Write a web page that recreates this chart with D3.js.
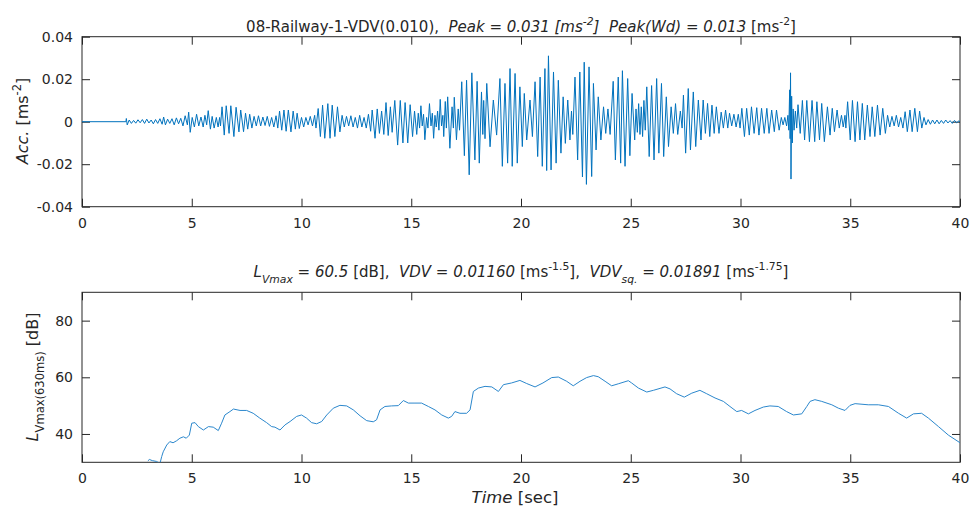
<!DOCTYPE html>
<html>
<head>
<meta charset="utf-8">
<script src="https://cdn.jsdelivr.net/npm/d3@7"></script>
<style>
  body { margin: 0; background: #fff; }
  svg text { font-family: "DejaVu Sans", sans-serif; fill: #262626; }
</style>
</head>
<body>
<div id="chart"></div>
<script>
// acceleration trace, [time s, acc m/s^2] (peaks and troughs)
const accSamples = [
  [0,0],[2.0,0],[2.02,0.0015],[2.06,-0.0015],[2.15,0.0008],[2.25,-0.0008],[2.35,0.0006],[2.45,-0.0007],[2.55,0.0009],[2.65,-0.0005],
  [2.75,0.001],[2.85,-0.0008],[2.95,0.0012],[3.05,-0.0006],[3.15,0.0008],[3.25,-0.001],[3.35,0.001],[3.45,-0.0008],[3.55,0.0014],[3.65,-0.0012],
  [3.72,0.0022],[3.8,-0.0015],[3.9,0.0012],[4.0,-0.0008],[4.1,0.0014],[4.2,-0.0015],[4.3,0.0018],[4.4,-0.001],[4.5,0.0016],[4.6,-0.002],
  [4.7,0.0028],[4.8,-0.0015],[4.86,0.0045],[4.93,-0.005],[5.02,0.002],[5.12,-0.0025],[5.22,0.0035],[5.32,-0.002],[5.42,0.0022],[5.52,-0.0025],
  [5.6,0.003],[5.68,-0.0015],[5.75,0.0052],[5.85,-0.0035],[5.93,0.0025],[6.02,-0.003],[6.12,0.002],[6.2,-0.0025],[6.27,0.002],[6.31,-0.002],
  [6.38,0.007],[6.48,-0.0063],[6.57,0.0075],[6.7,-0.0055],[6.78,0.0075],[6.92,-0.007],[7.02,0.0068],[7.15,-0.0048],[7.23,0.0055],[7.36,-0.0047],
  [7.45,0.004],[7.55,-0.0035],[7.64,0.0035],[7.74,-0.003],[7.84,0.0025],[7.94,-0.002],[8.04,0.0028],[8.14,-0.002],[8.24,0.0022],[8.34,-0.0018],
  [8.44,0.0025],[8.54,-0.0022],[8.64,0.002],[8.74,-0.0025],[8.84,0.0028],[8.92,-0.003],[9.0,0.005],[9.1,-0.004],[9.2,0.0055],[9.3,-0.0045],
  [9.4,0.0055],[9.52,-0.0048],[9.62,0.005],[9.72,-0.0035],[9.8,0.004],[9.9,-0.0032],[10.0,0.002],[10.1,-0.0025],[10.2,0.002],[10.3,-0.0015],
  [10.4,0.0025],[10.5,-0.002],[10.6,0.003],[10.66,-0.003],[10.76,0.0062],[10.86,-0.007],[10.96,0.0078],[11.06,-0.0078],[11.2,0.0085],[11.3,-0.0078],
  [11.4,0.0078],[11.52,-0.007],[11.64,0.007],[11.75,-0.0048],[11.85,0.003],[11.95,-0.0025],[12.05,0.0025],[12.15,-0.002],[12.25,0.0028],[12.35,-0.0025],
  [12.45,0.002],[12.55,-0.003],[12.65,0.003],[12.75,-0.0025],[12.85,0.002],[12.95,-0.003],[13.05,0.0035],[13.15,-0.0045],[13.22,0.0055],[13.35,-0.0078],
  [13.45,0.006],[13.55,-0.0055],[13.65,0.005],[13.75,-0.006],[13.85,0.009],[13.95,-0.0065],[14.05,0.007],[14.13,-0.005],[14.25,0.01],[14.38,-0.011],
  [14.5,0.01],[14.62,-0.01],[14.72,0.009],[14.84,-0.01],[14.95,0.008],[15.06,-0.007],[15.15,0.005],[15.25,-0.006],[15.32,0.004],[15.38,-0.003],
  [15.44,0.0075],[15.5,-0.002],[15.56,0.0035],[15.62,-0.0085],[15.7,0.002],[15.76,-0.003],[15.83,0.0085],[15.9,-0.002],[15.96,0.004],[16.02,-0.0078],
  [16.08,0.003],[16.14,-0.0025],[16.2,0.005],[16.26,-0.004],[16.32,0.0105],[16.38,-0.002],[16.44,0.003],[16.48,-0.007],[16.55,0.0095],[16.6,-0.003],
  [16.66,0.0117],[16.76,-0.0125],[16.86,0.007],[16.92,-0.003],[16.96,0.0115],[17.06,-0.0085],[17.14,0.006],[17.2,-0.004],[17.3,0.0188],[17.42,-0.016],
  [17.52,0.0195],[17.64,-0.025],[17.76,0.023],[17.9,-0.018],[18.0,0.019],[18.1,-0.0195],[18.2,0.014],[18.26,-0.006],[18.3,0.01],[18.36,-0.008],
  [18.44,0.018],[18.59,-0.0118],[18.74,0.0102],[18.89,-0.0063],[19.04,0.0203],[19.15,-0.021],[19.27,0.018],[19.39,-0.0195],[19.5,0.025],[19.6,-0.021],
  [19.73,0.0227],[19.83,-0.0195],[19.95,0.0164],[20.06,-0.0117],[20.15,0.0133],[20.26,-0.0086],[20.41,0.0102],[20.52,-0.007],[20.64,0.0188],[20.76,-0.0164],
  [20.87,0.021],[20.97,-0.021],[21.09,0.025],[21.17,-0.023],[21.25,0.031],[21.37,-0.0227],[21.48,0.0234],[21.6,-0.0195],[21.7,0.0195],[21.82,-0.0148],
  [21.92,0.0117],[22.02,-0.0102],[22.13,0.0102],[22.23,-0.0086],[22.3,0.005],[22.36,-0.006],[22.46,0.021],[22.58,-0.018],[22.68,0.0234],[22.8,-0.026],
  [22.88,0.028],[22.98,-0.0295],[23.1,0.0258],[23.22,-0.0258],[23.3,0.018],[23.42,-0.0133],[23.52,0.0117],[23.64,-0.0086],[23.76,0.007],[23.86,-0.0055],
  [23.96,0.006],[24.06,-0.006],[24.2,0.019],[24.3,-0.018],[24.43,0.021],[24.54,-0.0195],[24.62,0.024],[24.74,-0.021],[24.86,0.0203],[24.96,-0.016],
  [25.06,0.0133],[25.18,-0.0086],[25.24,0.006],[25.3,-0.005],[25.36,0.0085],[25.42,-0.006],[25.48,0.007],[25.54,-0.007],[25.6,0.01],[25.66,-0.004],
  [25.73,0.0164],[25.84,-0.0164],[25.95,0.017],[26.06,-0.018],[26.18,0.0203],[26.28,-0.0148],[26.4,0.018],[26.5,-0.0164],[26.62,0.0117],[26.72,-0.0117],
  [26.84,0.007],[26.94,-0.0055],[27.04,0.0085],[27.14,-0.006],[27.26,0.005],[27.34,-0.003],[27.4,0.0125],[27.5,-0.0148],[27.62,0.0156],[27.72,-0.0133],
  [27.85,0.014],[27.96,-0.0117],[28.08,0.0102],[28.2,-0.0086],[28.3,0.0102],[28.4,-0.0055],[28.5,0.0086],[28.6,-0.007],[28.7,0.0078],[28.8,-0.0055],
  [28.9,0.007],[29.02,-0.0055],[29.12,0.0045],[29.22,-0.003],[29.32,0.0055],[29.42,-0.003],[29.5,0.004],[29.6,-0.002],[29.7,0.0035],[29.8,-0.0025],
  [29.9,0.0035],[29.98,-0.003],[30.06,0.0063],[30.18,-0.007],[30.28,0.0063],[30.4,-0.0063],[30.5,0.007],[30.62,-0.0055],[30.74,0.0066],[30.84,-0.0063],
  [30.96,0.0063],[31.08,-0.0055],[31.2,0.0063],[31.3,-0.0055],[31.42,0.0055],[31.54,-0.0047],[31.64,0.0055],[31.76,-0.004],[31.86,0.002],[31.94,-0.0015],
  [32.02,0.002],[32.1,-0.002],[32.16,0.003],[32.2,-0.004],[32.24,0.015],[32.26,-0.008],[32.28,0.023],[32.3,-0.027],[32.33,0.012],[32.36,-0.01],
  [32.4,0.006],[32.44,-0.004],[32.5,0.005],[32.56,-0.003],[32.62,0.008],[32.72,-0.0055],[32.82,0.01],[32.92,-0.0086],[33.02,0.01],[33.14,-0.0094],
  [33.26,0.01],[33.38,-0.0094],[33.48,0.0094],[33.6,-0.0086],[33.7,0.0086],[33.82,-0.0094],[33.96,0.007],[34.08,-0.0063],[34.18,0.0063],[34.28,-0.0047],
  [34.4,0.0055],[34.5,-0.003],[34.6,0.003],[34.68,-0.0025],[34.76,0.003],[34.8,-0.003],[34.88,0.0094],[35.0,-0.0086],[35.1,0.01],[35.22,-0.0094],
  [35.33,0.0094],[35.44,-0.0086],[35.55,0.0086],[35.66,-0.0086],[35.78,0.0078],[35.9,-0.007],[36.0,0.007],[36.12,-0.007],[36.24,0.0078],[36.36,-0.0063],
  [36.48,0.0063],[36.6,-0.0055],[36.7,0.003],[36.8,-0.0025],[36.9,0.0025],[37.0,-0.002],[37.1,0.003],[37.2,-0.0025],[37.3,0.002],[37.4,-0.003],
  [37.5,0.0047],[37.6,-0.0047],[37.72,0.0055],[37.82,-0.0047],[37.94,0.0063],[38.06,-0.0047],[38.16,0.005],[38.26,-0.003],[38.36,0.002],[38.45,-0.0015],
  [38.55,0.001],[38.65,-0.0012],[38.75,0.0008],[38.85,-0.001],[38.95,0.0008],[39.05,-0.001],[39.15,0.0006],[39.25,-0.0008],[39.35,0.0008],[39.45,-0.0006],
  [39.55,0.0005],[39.65,-0.0008],[39.75,0.0006],[39.85,-0.0005],[39.95,0.0004],[40,0]
];

// running L_Vmax (630 ms) in dB, [time s, dB]
const lvSamples = [
  [3.0,30.5],[3.07,31],[3.2,30.6],[3.4,30.3],[3.55,29.5],[3.63,32],[3.7,33.7],[3.86,36.1],[4.0,37.3],[4.15,36.9],
  [4.31,37.6],[4.46,38.5],[4.62,39],[4.75,38.5],[4.89,39.6],[5.0,43.8],[5.15,44],[5.3,42.6],[5.53,41.4],[5.76,42.6],
  [5.98,42.4],[6.21,41.2],[6.36,43.8],[6.51,46.7],[6.74,47.9],[6.9,48.8],[7.2,48.3],[7.5,48.3],[7.8,47.3],[8.1,45.6],
  [8.41,44],[8.64,42.6],[8.79,42.4],[9.02,41.4],[9.25,43.2],[9.48,44.4],[9.78,46.2],[10.0,46.7],[10.23,45.6],[10.46,44],
  [10.69,43.6],[10.92,44.4],[11.15,46.7],[11.45,49.1],[11.75,50.1],[12.06,49.9],[12.36,48.5],[12.67,46.4],[12.97,44.7],[13.27,44.3],
  [13.42,45],[13.58,48.5],[13.8,49.7],[14.1,49.9],[14.41,50],[14.64,51.8],[14.87,50.9],[15.17,50.9],[15.47,50.9],[15.78,49.7],
  [16.08,48.5],[16.39,46.7],[16.69,45.6],[16.84,46.2],[16.99,47.9],[17.22,47.3],[17.52,47.3],[17.68,48.5],[17.83,55],[18.06,56.2],
  [18.36,56.8],[18.67,56.6],[18.97,55],[19.2,57.4],[19.57,58],[19.95,58.9],[20.26,57.8],[20.64,56.6],[21.0,58],[21.4,59.9],
  [21.7,60.1],[22.08,58.6],[22.38,57],[22.69,58.6],[22.99,59.9],[23.3,60.6],[23.52,60.2],[23.83,58.6],[24.13,57],[24.43,57.7],
  [24.89,58.8],[25.04,58],[25.35,56.2],[25.73,54.8],[26.03,55.4],[26.56,56.6],[26.79,55.9],[27.09,54.2],[27.44,53],[27.78,54.4],
  [28.15,55.4],[28.46,54.2],[28.84,52.7],[29.22,51.5],[29.52,49.7],[29.83,47.9],[30.05,48.3],[30.36,47.1],[30.66,48.3],[31.04,49.5],
  [31.34,49.9],[31.72,49.7],[32.1,47.9],[32.41,46.7],[32.79,47.1],[33.02,49.7],[33.17,51.5],[33.39,52.1],[33.7,51.5],[34.16,50.3],
  [34.46,49.1],[34.76,48.3],[34.99,50.1],[35.22,50.7],[35.82,50.3],[36.28,50.3],[36.74,49.7],[37.2,47.3],[37.57,45.6],[37.88,47.1],
  [38.25,47.3],[38.56,45.6],[39.02,42.6],[39.47,39.6],[40,36.9]
];

const timeTicks = [0, 5, 10, 15, 20, 25, 30, 35, 40];
const accTicks = [-0.04, -0.02, 0, 0.02, 0.04];
const lvTicks = [40, 60, 80];

const W = 970, H = 508;
const svg = d3.select("#chart").append("svg")
    .attr("width", W).attr("height", H);

const left = 82, right = 960;
const x = d3.scaleLinear().domain([0, 40]).range([left, right]);
const yAcc = d3.scaleLinear().domain([-0.04, 0.04]).range([206.7, 36.7]);
const yLv = d3.scaleLinear().domain([30, 90]).range([462.3, 292.3]);

// write a label made of pieces: {t, it (italic), s: "sup"|"sub"}
function richText(sel, parts, size) {
    let shift = 0;
    parts.forEach(p => {
        const target = p.s === "sup" ? -7 : p.s === "sub" ? 6 : 0;
        sel.append("tspan")
            .attr("dy", target - shift)
            .style("font-style", p.it ? "italic" : "normal")
            .style("font-size", p.s ? (size * 0.72) + "px" : size + "px")
            .text(p.t);
        shift = target;
    });
}

function drawAxes(y, yTicks, yFmt, clipId) {
    const g = svg.append("g");
    const [y0, y1] = y.range();

    g.append("g")
        .attr("transform", `translate(0,${y0})`)
        .call(d3.axisBottom(x).tickValues(timeTicks).tickSize(-8).tickSizeOuter(0).tickPadding(11))
        .call(a => a.select(".domain").remove());
    g.append("g")
        .attr("transform", `translate(0,${y1})`)
        .call(d3.axisTop(x).tickValues(timeTicks).tickSize(-8).tickSizeOuter(0).tickFormat(""))
        .call(a => a.select(".domain").remove());
    g.append("g")
        .attr("transform", `translate(${left},0)`)
        .call(d3.axisLeft(y).tickValues(yTicks).tickSize(-8).tickSizeOuter(0).tickPadding(9).tickFormat(yFmt))
        .call(a => a.select(".domain").remove());
    g.append("g")
        .attr("transform", `translate(${right},0)`)
        .call(d3.axisRight(y).tickValues(yTicks).tickSize(-8).tickSizeOuter(0).tickFormat(""))
        .call(a => a.select(".domain").remove());

    g.selectAll(".tick line").attr("stroke", "#262626");
    g.selectAll(".tick text").style("font-size", "14px").attr("fill", "#262626")
        .style("font-family", "'DejaVu Sans', sans-serif");

    g.append("rect")
        .attr("x", left).attr("y", y1)
        .attr("width", right - left).attr("height", y0 - y1)
        .attr("fill", "none").attr("stroke", "#262626").attr("stroke-width", 1);

    svg.append("clipPath").attr("id", clipId)
        .append("rect")
        .attr("x", left).attr("y", y1)
        .attr("width", right - left).attr("height", y0 - y1);
}

// top panel: acceleration
drawAxes(yAcc, accTicks, d => d === 0 ? "0" : d.toFixed(2), "clipAcc");

svg.append("path")
    .datum(accSamples)
    .attr("clip-path", "url(#clipAcc)")
    .attr("fill", "none")
    .attr("stroke", "#0072BD")
    .attr("stroke-width", 1)
    .attr("stroke-linejoin", "round")
    .attr("d", d3.line().x(d => x(d[0])).y(d => yAcc(d[1])));

// bottom panel: L_Vmax
drawAxes(yLv, lvTicks, d3.format("d"), "clipLv");

svg.append("path")
    .datum(lvSamples)
    .attr("clip-path", "url(#clipLv)")
    .attr("fill", "none")
    .attr("stroke", "#2b87cc")
    .attr("stroke-width", 1)
    .attr("stroke-linejoin", "round")
    .attr("d", d3.line().x(d => x(d[0])).y(d => yLv(d[1])));

// titles
richText(svg.append("text").attr("x", 521).attr("y", 32).attr("text-anchor", "middle"), [
    { t: "08-Railway-1-VDV(0.010),\u00a0\u00a0" },
    { t: "Peak = 0.031 [ms", it: true },
    { t: "-2", it: true, s: "sup" },
    { t: "]\u00a0\u00a0Peak(Wd) = 0.013 ", it: true },
    { t: "[ms" },
    { t: "-2", s: "sup" },
    { t: "]" }
], 15);

richText(svg.append("text").attr("x", 521).attr("y", 277).attr("text-anchor", "middle"), [
    { t: "L", it: true },
    { t: "Vmax", it: true, s: "sub" },
    { t: " = 60.5", it: true },
    { t: " [dB],\u00a0\u00a0" },
    { t: "VDV = 0.01160", it: true },
    { t: " [ms" },
    { t: "-1.5", s: "sup" },
    { t: "],\u00a0\u00a0" },
    { t: "VDV", it: true },
    { t: "sq.", it: true, s: "sub" },
    { t: " = 0.01891", it: true },
    { t: " [ms" },
    { t: "-1.75", s: "sup" },
    { t: "]" }
], 15);

// axis labels
richText(svg.append("text").attr("text-anchor", "middle")
    .attr("transform", "translate(28,121) rotate(-90)"), [
    { t: "Acc.", it: true },
    { t: " [ms" },
    { t: "-2", s: "sup" },
    { t: "]" }
], 16);

richText(svg.append("text").attr("text-anchor", "middle")
    .attr("transform", "translate(38,377) rotate(-90)"), [
    { t: "L", it: true },
    { t: "Vmax(630ms)", s: "sub" },
    { t: " [dB]" }
], 16);

richText(svg.append("text").attr("x", 515).attr("y", 503).attr("text-anchor", "middle"), [
    { t: "Time", it: true },
    { t: " [sec]" }
], 16.5);
</script>
</body>
</html>
